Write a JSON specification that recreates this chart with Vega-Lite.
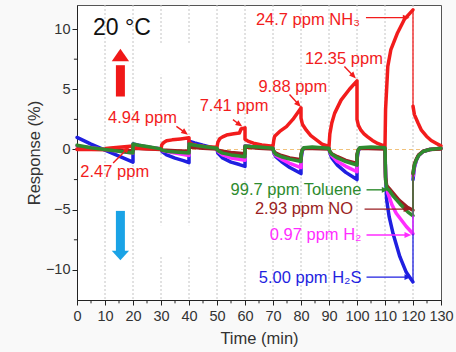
{
  "$schema": "https://vega.github.io/schema/vega-lite/v6.json",
  "width": 364,
  "height": 295,
  "autosize": "none",
  "padding": {"left": 77, "top": 5, "right": 15, "bottom": 52},
  "background": "#f9f9f9",
  "config": {
    "font": "Liberation Sans",
    "view": {"stroke": "#555555", "strokeWidth": 1, "fill": "white"},
    "axis": {
      "domainColor": "#222222",
      "tickColor": "#222222",
      "labelColor": "#333333",
      "titleColor": "#333333",
      "labelFontSize": 14.5,
      "titleFontSize": 16.5,
      "titleFontWeight": "normal",
      "labelFont": "Liberation Sans",
      "titleFont": "Liberation Sans",
      "labelPadding": 2,
      "labelOverlap": false,
      "labelFlush": false,
      "labelBound": false,
      "grid": false,
      "tickSize": 5
    },
    "axisX": {"tickCount": 13, "titlePadding": 8, "labelPadding": 4},
    "axisY": {"tickCount": 5, "titlePadding": 3}
  },
  "datasets": {
    "curves": [
      {"s":"H2S","g":1,"t":0,"v":1.0},{"s":"H2S","g":1,"t":5,"v":0.45},{"s":"H2S","g":1,"t":10,"v":-0.05},{"s":"H2S","g":1,"t":15,"v":-0.55},{"s":"H2S","g":1,"t":20,"v":-1.05},{"s":"H2S","g":1,"t":20,"v":0.45},{"s":"H2S","g":1,"t":22,"v":0.35},{"s":"H2S","g":1,"t":25,"v":0.2},{"s":"H2S","g":1,"t":30,"v":0.05},{"s":"H2S","g":1,"t":30.3,"v":-0.15},{"s":"H2S","g":1,"t":32,"v":-0.45},{"s":"H2S","g":1,"t":35,"v":-0.72},{"s":"H2S","g":1,"t":38,"v":-0.92},{"s":"H2S","g":1,"t":40,"v":-1.1},{"s":"H2S","g":1,"t":40,"v":0.7},{"s":"H2S","g":1,"t":42,"v":0.55},{"s":"H2S","g":1,"t":45,"v":0.35},{"s":"H2S","g":1,"t":50,"v":0.05},{"s":"H2S","g":1,"t":50.3,"v":-0.3},{"s":"H2S","g":1,"t":52,"v":-0.7},{"s":"H2S","g":1,"t":55,"v":-1.05},{"s":"H2S","g":1,"t":58,"v":-1.25},{"s":"H2S","g":1,"t":60,"v":-1.4},{"s":"H2S","g":1,"t":60,"v":0.3},{"s":"H2S","g":1,"t":62,"v":0.25},{"s":"H2S","g":1,"t":65,"v":0.2},{"s":"H2S","g":1,"t":70,"v":0.1},{"s":"H2S","g":1,"t":70.3,"v":-0.3},{"s":"H2S","g":1,"t":71,"v":-0.6},{"s":"H2S","g":1,"t":73,"v":-1.0},{"s":"H2S","g":1,"t":76,"v":-1.5},{"s":"H2S","g":1,"t":80,"v":-2.0},{"s":"H2S","g":1,"t":80,"v":-0.8},{"s":"H2S","g":1,"t":80.5,"v":-0.1},{"s":"H2S","g":1,"t":81,"v":0.1},{"s":"H2S","g":1,"t":85,"v":0.15},{"s":"H2S","g":1,"t":90,"v":0.1},{"s":"H2S","g":1,"t":90.3,"v":-0.3},{"s":"H2S","g":1,"t":91,"v":-0.7},{"s":"H2S","g":1,"t":93,"v":-1.3},{"s":"H2S","g":1,"t":96,"v":-1.9},{"s":"H2S","g":1,"t":100,"v":-2.5},{"s":"H2S","g":1,"t":100,"v":-0.8},{"s":"H2S","g":1,"t":100.5,"v":-0.1},{"s":"H2S","g":1,"t":101,"v":0.1},{"s":"H2S","g":1,"t":105,"v":0.15},{"s":"H2S","g":1,"t":110,"v":0.1},{"s":"H2S","g":1,"t":110.2,"v":-2.0},{"s":"H2S","g":1,"t":110.6,"v":-4.2},{"s":"H2S","g":1,"t":111.5,"v":-5.6},{"s":"H2S","g":1,"t":112.9,"v":-7.0},{"s":"H2S","g":1,"t":115.3,"v":-8.9},{"s":"H2S","g":1,"t":117.6,"v":-10.2},{"s":"H2S","g":1,"t":120,"v":-11.0},
      {"s":"H2S","g":2,"t":120,"v":-2.5},{"s":"H2S","g":2,"t":120.5,"v":-1.5},{"s":"H2S","g":2,"t":121.2,"v":-0.9},{"s":"H2S","g":2,"t":122,"v":-0.5},{"s":"H2S","g":2,"t":123.6,"v":-0.17},{"s":"H2S","g":2,"t":126,"v":0.0},{"s":"H2S","g":2,"t":130,"v":0.1},
      {"s":"H2","g":1,"t":0,"v":0.3},{"s":"H2","g":1,"t":10,"v":0.0},{"s":"H2","g":1,"t":20,"v":-0.3},{"s":"H2","g":1,"t":20,"v":0.4},{"s":"H2","g":1,"t":25,"v":0.2},{"s":"H2","g":1,"t":30,"v":0.05},{"s":"H2","g":1,"t":30.3,"v":-0.08},{"s":"H2","g":1,"t":35,"v":-0.3},{"s":"H2","g":1,"t":40,"v":-0.5},{"s":"H2","g":1,"t":40,"v":0.4},{"s":"H2","g":1,"t":45,"v":0.25},{"s":"H2","g":1,"t":50,"v":0.05},{"s":"H2","g":1,"t":50.3,"v":-0.15},{"s":"H2","g":1,"t":52,"v":-0.45},{"s":"H2","g":1,"t":55,"v":-0.7},{"s":"H2","g":1,"t":60,"v":-0.9},{"s":"H2","g":1,"t":60,"v":0.3},{"s":"H2","g":1,"t":65,"v":0.2},{"s":"H2","g":1,"t":70,"v":0.1},{"s":"H2","g":1,"t":70.3,"v":-0.25},{"s":"H2","g":1,"t":71,"v":-0.5},{"s":"H2","g":1,"t":73,"v":-0.8},{"s":"H2","g":1,"t":76,"v":-1.15},{"s":"H2","g":1,"t":80,"v":-1.5},{"s":"H2","g":1,"t":80,"v":-0.6},{"s":"H2","g":1,"t":80.5,"v":0.0},{"s":"H2","g":1,"t":81,"v":0.12},{"s":"H2","g":1,"t":85,"v":0.15},{"s":"H2","g":1,"t":90,"v":0.1},{"s":"H2","g":1,"t":90.3,"v":-0.25},{"s":"H2","g":1,"t":91,"v":-0.5},{"s":"H2","g":1,"t":93,"v":-1.0},{"s":"H2","g":1,"t":96,"v":-1.4},{"s":"H2","g":1,"t":100,"v":-1.85},{"s":"H2","g":1,"t":100,"v":-0.6},{"s":"H2","g":1,"t":100.5,"v":0.0},{"s":"H2","g":1,"t":101,"v":0.12},{"s":"H2","g":1,"t":105,"v":0.15},{"s":"H2","g":1,"t":110,"v":0.1},{"s":"H2","g":1,"t":110.2,"v":-2.5},{"s":"H2","g":1,"t":111,"v":-3.6},{"s":"H2","g":1,"t":112.5,"v":-4.6},{"s":"H2","g":1,"t":114,"v":-5.3},{"s":"H2","g":1,"t":117.6,"v":-6.4},{"s":"H2","g":1,"t":120,"v":-7.0},
      {"s":"H2","g":2,"t":120,"v":-2.2},{"s":"H2","g":2,"t":120.5,"v":-1.4},{"s":"H2","g":2,"t":121.2,"v":-0.88},{"s":"H2","g":2,"t":122,"v":-0.5},{"s":"H2","g":2,"t":123.6,"v":-0.17},{"s":"H2","g":2,"t":126,"v":0.0},{"s":"H2","g":2,"t":130,"v":0.1},
      {"s":"NO","g":1,"t":0,"v":0.05},{"s":"NO","g":1,"t":10,"v":0.0},{"s":"NO","g":1,"t":20,"v":-0.1},{"s":"NO","g":1,"t":20,"v":0.1},{"s":"NO","g":1,"t":30,"v":0.0},{"s":"NO","g":1,"t":30.3,"v":-0.05},{"s":"NO","g":1,"t":35,"v":-0.1},{"s":"NO","g":1,"t":40,"v":-0.15},{"s":"NO","g":1,"t":40,"v":0.2},{"s":"NO","g":1,"t":45,"v":0.1},{"s":"NO","g":1,"t":50,"v":0.05},{"s":"NO","g":1,"t":50.3,"v":-0.05},{"s":"NO","g":1,"t":52,"v":-0.15},{"s":"NO","g":1,"t":55,"v":-0.25},{"s":"NO","g":1,"t":60,"v":-0.35},{"s":"NO","g":1,"t":60,"v":0.2},{"s":"NO","g":1,"t":65,"v":0.1},{"s":"NO","g":1,"t":70,"v":0.05},{"s":"NO","g":1,"t":70.3,"v":-0.15},{"s":"NO","g":1,"t":71,"v":-0.3},{"s":"NO","g":1,"t":73,"v":-0.5},{"s":"NO","g":1,"t":76,"v":-0.7},{"s":"NO","g":1,"t":80,"v":-0.85},{"s":"NO","g":1,"t":80,"v":-0.4},{"s":"NO","g":1,"t":80.5,"v":0.0},{"s":"NO","g":1,"t":81,"v":0.1},{"s":"NO","g":1,"t":90,"v":0.05},{"s":"NO","g":1,"t":90.3,"v":-0.15},{"s":"NO","g":1,"t":91,"v":-0.35},{"s":"NO","g":1,"t":93,"v":-0.6},{"s":"NO","g":1,"t":96,"v":-0.9},{"s":"NO","g":1,"t":100,"v":-1.15},{"s":"NO","g":1,"t":100,"v":-0.4},{"s":"NO","g":1,"t":100.5,"v":0.0},{"s":"NO","g":1,"t":101,"v":0.1},{"s":"NO","g":1,"t":110,"v":0.05},{"s":"NO","g":1,"t":110.2,"v":-2.3},{"s":"NO","g":1,"t":110.6,"v":-3.0},{"s":"NO","g":1,"t":111.7,"v":-3.3},{"s":"NO","g":1,"t":115,"v":-4.2},{"s":"NO","g":1,"t":118,"v":-4.8},{"s":"NO","g":1,"t":120,"v":-5.05},
      {"s":"NO","g":2,"t":120,"v":-2.0},{"s":"NO","g":2,"t":120.5,"v":-1.2},{"s":"NO","g":2,"t":121.2,"v":-0.8},{"s":"NO","g":2,"t":122,"v":-0.45},{"s":"NO","g":2,"t":123.6,"v":-0.15},{"s":"NO","g":2,"t":126,"v":0.0},{"s":"NO","g":2,"t":130,"v":0.05},
      {"s":"NH3","g":1,"t":0,"v":0.0},{"s":"NH3","g":1,"t":10,"v":0.0},{"s":"NH3","g":1,"t":10.3,"v":0.08},{"s":"NH3","g":1,"t":12,"v":0.13},{"s":"NH3","g":1,"t":15,"v":0.18},{"s":"NH3","g":1,"t":18,"v":0.24},{"s":"NH3","g":1,"t":20,"v":0.28},{"s":"NH3","g":1,"t":20,"v":0.15},{"s":"NH3","g":1,"t":22,"v":0.1},{"s":"NH3","g":1,"t":25,"v":0.06},{"s":"NH3","g":1,"t":30,"v":0.05},{"s":"NH3","g":1,"t":30.3,"v":0.4},{"s":"NH3","g":1,"t":31,"v":0.58},{"s":"NH3","g":1,"t":32,"v":0.72},{"s":"NH3","g":1,"t":34,"v":0.8},{"s":"NH3","g":1,"t":37,"v":0.88},{"s":"NH3","g":1,"t":40,"v":0.97},{"s":"NH3","g":1,"t":40,"v":0.6},{"s":"NH3","g":1,"t":41,"v":0.45},{"s":"NH3","g":1,"t":43,"v":0.32},{"s":"NH3","g":1,"t":46,"v":0.22},{"s":"NH3","g":1,"t":50,"v":0.18},{"s":"NH3","g":1,"t":50.3,"v":0.6},{"s":"NH3","g":1,"t":51,"v":0.9},{"s":"NH3","g":1,"t":52,"v":1.05},{"s":"NH3","g":1,"t":53.4,"v":1.2},{"s":"NH3","g":1,"t":56,"v":1.3},{"s":"NH3","g":1,"t":58,"v":1.37},{"s":"NH3","g":1,"t":58.6,"v":1.7},{"s":"NH3","g":1,"t":60,"v":1.8},{"s":"NH3","g":1,"t":60,"v":0.85},{"s":"NH3","g":1,"t":61,"v":0.7},{"s":"NH3","g":1,"t":63,"v":0.52},{"s":"NH3","g":1,"t":66,"v":0.38},{"s":"NH3","g":1,"t":70,"v":0.28},{"s":"NH3","g":1,"t":70.3,"v":0.8},{"s":"NH3","g":1,"t":70.6,"v":1.1},{"s":"NH3","g":1,"t":72.4,"v":1.5},{"s":"NH3","g":1,"t":74.8,"v":1.9},{"s":"NH3","g":1,"t":77.1,"v":2.5},{"s":"NH3","g":1,"t":80,"v":3.45},{"s":"NH3","g":1,"t":80,"v":2.6},{"s":"NH3","g":1,"t":80.5,"v":2.1},{"s":"NH3","g":1,"t":81.9,"v":1.6},{"s":"NH3","g":1,"t":83.5,"v":1.15},{"s":"NH3","g":1,"t":85.5,"v":0.8},{"s":"NH3","g":1,"t":87.5,"v":0.45},{"s":"NH3","g":1,"t":90,"v":0.25},{"s":"NH3","g":1,"t":90.3,"v":1.3},{"s":"NH3","g":1,"t":91,"v":2.2},{"s":"NH3","g":1,"t":92,"v":3.0},{"s":"NH3","g":1,"t":94.3,"v":4.1},{"s":"NH3","g":1,"t":97.3,"v":5.0},{"s":"NH3","g":1,"t":100,"v":5.7},{"s":"NH3","g":1,"t":100,"v":2.5},{"s":"NH3","g":1,"t":100.5,"v":2.0},{"s":"NH3","g":1,"t":101.4,"v":1.6},{"s":"NH3","g":1,"t":102.5,"v":1.3},{"s":"NH3","g":1,"t":103.8,"v":1.05},{"s":"NH3","g":1,"t":105.5,"v":0.75},{"s":"NH3","g":1,"t":107.4,"v":0.5},{"s":"NH3","g":1,"t":110,"v":0.25},{"s":"NH3","g":1,"t":110.2,"v":3.3},{"s":"NH3","g":1,"t":111,"v":6.9},{"s":"NH3","g":1,"t":112.1,"v":8.3},{"s":"NH3","g":1,"t":114.5,"v":9.7},{"s":"NH3","g":1,"t":116.9,"v":10.8},{"s":"NH3","g":1,"t":120,"v":11.6},
      {"s":"NH3","g":2,"t":120,"v":3.6},{"s":"NH3","g":2,"t":120.5,"v":2.9},{"s":"NH3","g":2,"t":121.8,"v":2.2},{"s":"NH3","g":2,"t":123,"v":1.6},{"s":"NH3","g":2,"t":124.8,"v":1.1},{"s":"NH3","g":2,"t":126.5,"v":0.75},{"s":"NH3","g":2,"t":128.4,"v":0.5},{"s":"NH3","g":2,"t":130,"v":0.3},
      {"s":"Toluene","g":1,"t":0,"v":0.35},{"s":"Toluene","g":1,"t":5,"v":0.15},{"s":"Toluene","g":1,"t":10,"v":0.0},{"s":"Toluene","g":1,"t":15,"v":-0.15},{"s":"Toluene","g":1,"t":20,"v":-0.3},{"s":"Toluene","g":1,"t":20,"v":0.45},{"s":"Toluene","g":1,"t":22,"v":0.35},{"s":"Toluene","g":1,"t":25,"v":0.25},{"s":"Toluene","g":1,"t":30,"v":0.05},{"s":"Toluene","g":1,"t":30.3,"v":-0.05},{"s":"Toluene","g":1,"t":32,"v":-0.15},{"s":"Toluene","g":1,"t":35,"v":-0.2},{"s":"Toluene","g":1,"t":40,"v":-0.3},{"s":"Toluene","g":1,"t":40,"v":0.45},{"s":"Toluene","g":1,"t":42,"v":0.35},{"s":"Toluene","g":1,"t":45,"v":0.25},{"s":"Toluene","g":1,"t":50,"v":0.1},{"s":"Toluene","g":1,"t":50.3,"v":-0.1},{"s":"Toluene","g":1,"t":52,"v":-0.3},{"s":"Toluene","g":1,"t":55,"v":-0.45},{"s":"Toluene","g":1,"t":60,"v":-0.6},{"s":"Toluene","g":1,"t":60,"v":0.3},{"s":"Toluene","g":1,"t":62,"v":0.25},{"s":"Toluene","g":1,"t":65,"v":0.2},{"s":"Toluene","g":1,"t":70,"v":0.1},{"s":"Toluene","g":1,"t":70.3,"v":-0.2},{"s":"Toluene","g":1,"t":71,"v":-0.4},{"s":"Toluene","g":1,"t":73,"v":-0.6},{"s":"Toluene","g":1,"t":76,"v":-0.8},{"s":"Toluene","g":1,"t":80,"v":-1.0},{"s":"Toluene","g":1,"t":80,"v":-0.5},{"s":"Toluene","g":1,"t":80.5,"v":0.0},{"s":"Toluene","g":1,"t":81,"v":0.15},{"s":"Toluene","g":1,"t":84,"v":0.2},{"s":"Toluene","g":1,"t":90,"v":0.1},{"s":"Toluene","g":1,"t":90.3,"v":-0.2},{"s":"Toluene","g":1,"t":91,"v":-0.4},{"s":"Toluene","g":1,"t":93,"v":-0.7},{"s":"Toluene","g":1,"t":96,"v":-1.0},{"s":"Toluene","g":1,"t":100,"v":-1.3},{"s":"Toluene","g":1,"t":100,"v":-0.5},{"s":"Toluene","g":1,"t":100.5,"v":0.0},{"s":"Toluene","g":1,"t":101,"v":0.15},{"s":"Toluene","g":1,"t":105,"v":0.2},{"s":"Toluene","g":1,"t":110,"v":0.15},{"s":"Toluene","g":1,"t":110.2,"v":-2.5},{"s":"Toluene","g":1,"t":110.6,"v":-3.2},{"s":"Toluene","g":1,"t":111.7,"v":-3.45},{"s":"Toluene","g":1,"t":113,"v":-3.9},{"s":"Toluene","g":1,"t":115.3,"v":-4.5},{"s":"Toluene","g":1,"t":118.2,"v":-5.2},{"s":"Toluene","g":1,"t":120,"v":-5.5},
      {"s":"Toluene","g":2,"t":120,"v":-2.0},{"s":"Toluene","g":2,"t":120.5,"v":-1.3},{"s":"Toluene","g":2,"t":121.2,"v":-0.86},{"s":"Toluene","g":2,"t":122,"v":-0.5},{"s":"Toluene","g":2,"t":123.6,"v":-0.17},{"s":"Toluene","g":2,"t":126,"v":0.0},{"s":"Toluene","g":2,"t":130,"v":0.1}
    ],
    "jumps": [
      {"s":"H2S","t":120,"v":-11.0,"v2":-2.5},
      {"s":"H2","t":120,"v":-7.0,"v2":-2.2},
      {"s":"NO","t":120,"v":-5.05,"v2":-2.0},
      {"s":"Toluene","t":120,"v":-5.5,"v2":-2.0},
      {"s":"NH3","t":120,"v":11.6,"v2":3.6}
    ],
    "arrows": [
      {"s":"NH3","x":103.2,"y":10.95,"x2":117.4,"y2":10.95,"a":90},
      {"s":"NH3","x":95.5,"y":6.9,"x2":98.65,"y2":6.13,"a":136},
      {"s":"NH3","x":75.9,"y":4.56,"x2":79.0,"y2":3.77,"a":136.7},
      {"s":"NH3","x":55.7,"y":2.48,"x2":57.9,"y2":2.1,"a":125.5},
      {"s":"NH3","x":35.5,"y":1.92,"x2":38.5,"y2":1.42,"a":125.6},
      {"s":"NH3","x":12.9,"y":-1.13,"x2":17.8,"y2":0.02,"a":45.2},
      {"s":"Toluene","x":103.4,"y":-3.35,"x2":109.9,"y2":-3.35,"a":90},
      {"s":"NO","x":102.7,"y":-4.95,"x2":117.7,"y2":-4.95,"a":90},
      {"s":"H2","x":103.4,"y":-7.1,"x2":118.0,"y2":-7.1,"a":90},
      {"s":"H2S","x":103.4,"y":-10.6,"x2":118.0,"y2":-10.6,"a":90}
    ],
    "big": [
      {"s":"up","x":15.5,"y":4.4,"y2":7.0,"hy":7.85},
      {"s":"down","x":15.5,"y":-5.1,"y2":-8.45,"hy":-8.8}
    ],
    "boxes": [
      {"x":20.6,"x2":42.6,"y":6.2,"y2":8.7},
      {"x":20.6,"x2":42.6,"y":-8.86,"y2":-6.3}
    ],
    "grid": [
      {"x":10},{"x":20},{"x":30},{"x":40},{"x":50},{"x":60},{"x":70},{"x":80},{"x":90},{"x":100},{"x":110},{"x":120}
    ],
    "minorx": [
      {"x":5},{"x":15},{"x":25},{"x":35},{"x":45},{"x":55},{"x":65},{"x":75},{"x":85},{"x":95},{"x":105},{"x":115},{"x":125}
    ],
    "minory": [
      {"y":-7.5},{"y":-2.5},{"y":2.5},{"y":7.5}
    ],
    "labels": [
      {"s":"T","x":5.7,"y":10.1,"label":"20 °C"},
      {"s":"NH3","x":63.9,"y":10.75,"label":"24.7 ppm NH₃"},
      {"s":"NH3","x":81.4,"y":7.5,"label":"12.35 ppm"},
      {"s":"NH3","x":64.8,"y":5.2,"label":"9.88 ppm"},
      {"s":"NH3","x":43.8,"y":3.6,"label":"7.41 ppm"},
      {"s":"NH3","x":11.1,"y":2.6,"label":"4.94 ppm"},
      {"s":"NH3","x":1.2,"y":-1.85,"label":"2.47 ppm"},
      {"s":"Toluene","x":101.6,"y":-3.35,"label":"99.7 ppm Toluene"},
      {"s":"NO","x":98.6,"y":-4.95,"label":"2.93 ppm NO"},
      {"s":"H2","x":101.6,"y":-7.1,"label":"0.97 ppm H₂"},
      {"s":"H2S","x":101.6,"y":-10.65,"label":"5.00 ppm H₂S"}
    ]
  },
  "layer": [
    {
      "data": {"name": "grid"},
      "mark": {"type": "rule", "color": "#c4c4c4", "strokeDash": [2, 2], "strokeWidth": 1},
      "encoding": {
        "x": {"field": "x", "type": "quantitative",
          "scale": {"domain": [0, 130], "nice": false, "zero": false},
          "axis": {"title": "Time (min)"}}
      }
    },
    {
      "data": {"name": "boxes"},
      "mark": {"type": "rect", "fill": "white", "strokeWidth": 0},
      "encoding": {
        "x": {"field": "x", "type": "quantitative"},
        "x2": {"field": "x2"},
        "y": {"field": "y", "type": "quantitative",
          "scale": {"domain": [-12.5, 12], "nice": false, "zero": false},
          "axis": {"title": "Response (%)"}},
        "y2": {"field": "y2"}
      }
    },
    {
      "data": {"name": "minorx"},
      "mark": {"type": "rule", "color": "#222222", "strokeWidth": 1},
      "encoding": {
        "x": {"field": "x", "type": "quantitative"},
        "y": {"datum": -12.5},
        "y2": {"datum": -12.78}
      }
    },
    {
      "data": {"name": "minory"},
      "mark": {"type": "rule", "color": "#222222", "strokeWidth": 1},
      "encoding": {
        "y": {"field": "y", "type": "quantitative"},
        "x": {"datum": 0},
        "x2": {"datum": -1.1}
      }
    },
    {
      "data": {"values": [{"y": 0}]},
      "mark": {"type": "rule", "color": "#f1c27c", "strokeDash": [4, 3], "strokeWidth": 1.2},
      "encoding": {"y": {"field": "y", "type": "quantitative"}}
    },
    {
      "data": {"name": "curves"},
      "encoding": {
        "x": {"field": "t", "type": "quantitative"},
        "y": {"field": "v", "type": "quantitative"},
        "color": {"field": "s", "type": "nominal", "legend": null,
          "scale": {"domain": ["H2S","H2","NO","NH3","Toluene","up","down","T"],
                    "range": ["#1f1fe0","#ff2dff","#9a1e22","#f21c1c","#2e8b2e","#f01818","#1aa3e6","#111111"]}},
        "detail": {"field": "g"},
        "order": {"value": null}
      },
      "layer": [
        {"transform": [{"filter": "datum.s === 'H2S'"}], "mark": {"type": "line", "strokeWidth": 3.5, "strokeJoin": "round", "strokeCap": "round"}},
        {"transform": [{"filter": "datum.s === 'H2'"}], "mark": {"type": "line", "strokeWidth": 3.5, "strokeJoin": "round", "strokeCap": "round"}},
        {"transform": [{"filter": "datum.s === 'NO'"}], "mark": {"type": "line", "strokeWidth": 3.5, "strokeJoin": "round", "strokeCap": "round"}},
        {"transform": [{"filter": "datum.s === 'NH3'"}], "mark": {"type": "line", "strokeWidth": 3.5, "strokeJoin": "round", "strokeCap": "round"}},
        {"transform": [{"filter": "datum.s === 'Toluene'"}], "mark": {"type": "line", "strokeWidth": 3.5, "strokeJoin": "round", "strokeCap": "round"}}
      ]
    },
    {
      "data": {"name": "jumps"},
      "mark": {"type": "rule", "strokeWidth": 1.3},
      "encoding": {
        "x": {"field": "t", "type": "quantitative"},
        "y": {"field": "v", "type": "quantitative"},
        "y2": {"field": "v2"},
        "color": {"field": "s", "type": "nominal", "legend": null}
      }
    },
    {
      "data": {"name": "arrows"},
      "mark": {"type": "rule", "strokeWidth": 1.4},
      "encoding": {
        "x": {"field": "x", "type": "quantitative"},
        "y": {"field": "y", "type": "quantitative"},
        "x2": {"field": "x2"},
        "y2": {"field": "y2"},
        "color": {"field": "s", "type": "nominal", "legend": null}
      }
    },
    {
      "data": {"name": "arrows"},
      "mark": {"type": "point", "filled": true, "opacity": 1, "size": 60, "shape": "M0,-1L0.75,0.75L-0.75,0.75Z", "strokeWidth": 0},
      "encoding": {
        "x": {"field": "x2", "type": "quantitative"},
        "y": {"field": "y2", "type": "quantitative"},
        "angle": {"field": "a", "type": "quantitative", "scale": null},
        "color": {"field": "s", "type": "nominal", "legend": null}
      }
    },
    {
      "data": {"name": "big"},
      "mark": {"type": "rule", "strokeWidth": 9, "strokeCap": "butt"},
      "encoding": {
        "x": {"field": "x", "type": "quantitative"},
        "y": {"field": "y", "type": "quantitative"},
        "y2": {"field": "y2"},
        "color": {"field": "s", "type": "nominal", "legend": null}
      }
    },
    {
      "data": {"name": "big"},
      "mark": {"type": "point", "filled": true, "opacity": 1, "size": 300, "strokeWidth": 0},
      "encoding": {
        "x": {"field": "x", "type": "quantitative"},
        "y": {"field": "hy", "type": "quantitative"},
        "shape": {"field": "s", "type": "nominal", "legend": null,
          "scale": {"domain": ["up", "down"], "range": ["M-1,0.72L0,-0.72L1,0.72Z", "M-1,-0.55L1,-0.55L0,0.55Z"]}},
        "color": {"field": "s", "type": "nominal", "legend": null}
      }
    },
    {
      "data": {"name": "labels"},
      "transform": [{"filter": "datum.s === 'NH3'"}],
      "mark": {"type": "text", "align": "left", "baseline": "middle", "fontSize": 16.5, "font": "Liberation Sans"},
      "encoding": {
        "x": {"field": "x", "type": "quantitative"},
        "y": {"field": "y", "type": "quantitative"},
        "text": {"field": "label"},
        "color": {"field": "s", "type": "nominal", "legend": null}
      }
    },
    {
      "data": {"name": "labels"},
      "transform": [{"filter": "datum.s !== 'NH3' && datum.s !== 'T'"}],
      "mark": {"type": "text", "align": "right", "baseline": "middle", "fontSize": 16.5, "font": "Liberation Sans"},
      "encoding": {
        "x": {"field": "x", "type": "quantitative"},
        "y": {"field": "y", "type": "quantitative"},
        "text": {"field": "label"},
        "color": {"field": "s", "type": "nominal", "legend": null}
      }
    },
    {
      "data": {"name": "labels"},
      "transform": [{"filter": "datum.s === 'T'"}],
      "mark": {"type": "text", "align": "left", "baseline": "middle", "fontSize": 23, "font": "Liberation Sans"},
      "encoding": {
        "x": {"field": "x", "type": "quantitative"},
        "y": {"field": "y", "type": "quantitative"},
        "text": {"field": "label"},
        "color": {"field": "s", "type": "nominal", "legend": null}
      }
    }
  ]
}
